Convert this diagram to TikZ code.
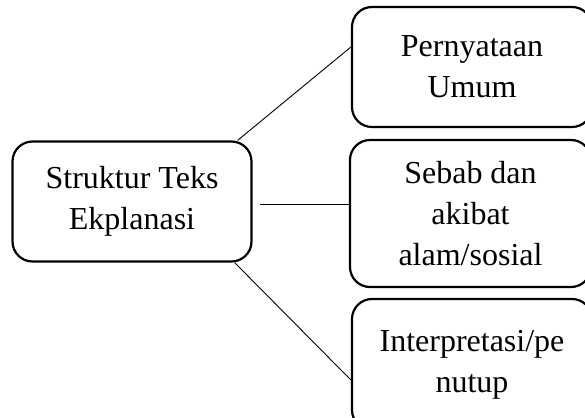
\documentclass[tikz,border=0pt]{standalone}
\usepackage{fontspec}
\setmainfont{Liberation Serif}
\usetikzlibrary{calc}
\tikzset{
  kotak/.style={draw,line width=2.2pt,rounded corners=20pt,align=center,inner sep=0pt,
    font=\fontsize{32}{41}\selectfont},
  garis/.style={line width=0.9pt}
}
\begin{document}
\begin{tikzpicture}
[x=1pt,y=1pt]
\clip (0,0) rectangle (585,417);
\useasboundingbox (0,0) rectangle (585,417);
\node [kotak,minimum width=239pt,minimum height=120pt] (struktur) at (132,215.5) {Struktur Teks\\Ekplanasi};
\node [kotak,minimum width=240pt,minimum height=120pt] (umum) at (472,350) {Pernyataan\\Umum};
\node [kotak,minimum width=241pt,minimum height=147pt] (sebab) at (470.5,203.5) {Sebab dan\\akibat\\alam/sosial};
\node [kotak,minimum width=240pt,minimum height=131pt] (penutup) at (472,52.5) {Interpretasi/pe\\nutup};
\draw [garis] ([xshift=-15pt]struktur.north east) -- ([yshift=20pt]umum.west);
\draw [garis] ([xshift=7pt,yshift=-2.5pt]struktur.east) -- ($(sebab.west)+(0,9.5)$);
\draw [garis] ([xshift=-18pt]struktur.south east) -- ([yshift=-15.5pt]penutup.west);
\end{tikzpicture}
\end{document}
